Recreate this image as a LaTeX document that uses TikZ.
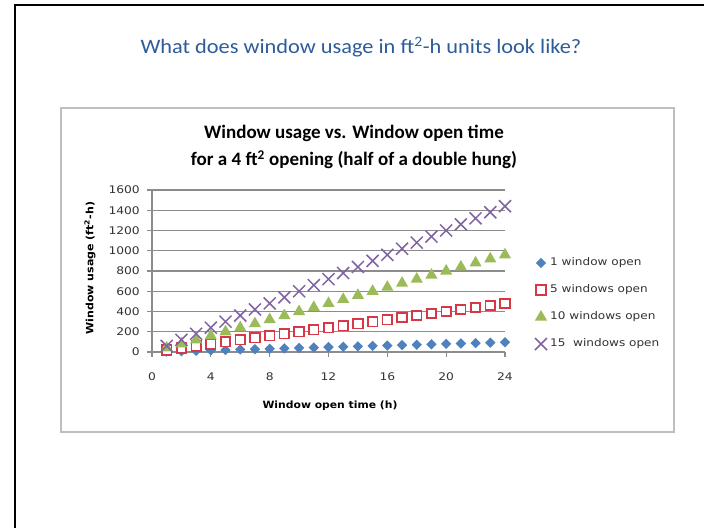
\documentclass[tikz,border=0pt]{standalone}
\usepackage{fontspec}
\usepackage{graphicx}
\setmainfont{Carlito}
\newfontfamily\dvs{DejaVu Sans}
\usetikzlibrary{shapes.geometric,shapes.misc}
\definecolor{titleblue}{RGB}{46,92,154}
\definecolor{sone}{RGB}{79,129,189}
\definecolor{stwo}{RGB}{214,56,72}
\definecolor{sthree}{RGB}{155,187,89}
\definecolor{sfour}{RGB}{128,100,162}
\definecolor{gridc}{RGB}{140,140,140}
\definecolor{boxc}{RGB}{190,190,190}
\newcommand{\hs}[2]{\scalebox{#1}[1]{#2}}
\begin{document}
\begin{tikzpicture}[x=1pt,y=-1pt,
  mkone/.style={diamond,fill=sone,inner sep=0pt,minimum width=10.5pt,minimum height=10.5pt},
  mktwo/.style={rectangle,draw=stwo,fill=white,line width=1.7pt,inner sep=0pt,minimum size=9.5pt},
  mkthree/.style={regular polygon,regular polygon sides=3,fill=sthree,inner sep=0pt,minimum size=14pt},
  mkfour/.style={cross out,draw=sfour,line width=1.5pt,inner sep=0pt,minimum size=10.5pt},
  gridline/.style={draw=gridc,line width=1.3pt},
  ticklab/.style={font=\fontsize{10.5}{12}\dvs,text=black!80,inner sep=0pt},
  legtext/.style={font=\fontsize{10.5}{12}\dvs,text=black!80,anchor=west,inner sep=0pt},
  axtitle/.style={font=\fontsize{10}{11}\dvs\bfseries,inner sep=0pt}]
\useasboundingbox (0,0) rectangle (704,528);
\fill[white] (0,0) rectangle (704,528);
% slide frame
\draw[line width=2pt] (15,528) -- (15,5) -- (704,5);
% slide title
\node[text=titleblue,font=\fontsize{20.5}{24}\selectfont,inner sep=0pt] (slidetitle) at (361,47)
  {\hs{1.09}{What does window usage in ft\textsuperscript{2}-h units look like?}};
% chart box
\draw[boxc,line width=1.2pt] (61,108) rectangle (674,432);
% chart title
\node[font=\fontsize{19}{27}\selectfont\bfseries,align=center,inner sep=0pt] (charttitle) at (354,147)
  {Window usage vs. Window open time\\for a 4 ft\textsuperscript{2} opening (half of a double hung)};
% gridlines and y ticks
\foreach \k in {1,...,8} {
  \draw[gridline] (147,{352-20.25*\k}) -- (505,{352-20.25*\k});
}
\foreach \k/\v in {0/0,1/200,2/400,3/600,4/800,5/1000,6/1200,7/1400,8/1600} {
  \node[ticklab,anchor=east] (ylab\k) at (140,{352-20.25*\k}) {\hs{1.17}{\v}};
}
% axes
\draw[gridline] (152,{352-20.25*8}) -- (152,352);
\draw[gridline] (147,352) -- (505,352);
\foreach \k/\v in {0/0,1/4,2/8,3/12,4/16,5/20,6/24} {
  \draw[gridline] ({152+58.83*\k},352) -- ({152+58.83*\k},357);
  \node[ticklab] (xlab\k) at ({152+58.83*\k},377) {\hs{1.17}{\v}};
}
% axis titles
\node[axtitle] (xtitle) at (330,406) {\hs{1.08}{Window open time (h)}};
\node[axtitle,rotate=90] (ytitle) at (90,268) {\hs{1.1}{Window usage (ft\textsuperscript{2}-h)}};
% data
\foreach \t in {1,...,24} {
  \node[mkone] (a\t) at ({152+14.708*\t},{352-0.10125*4*\t}) {};
}
\foreach \t in {1,...,24} {
  \node[mktwo] (b\t) at ({152+14.708*\t},{352-0.10125*20*\t}) {};
}
\foreach \t in {1,...,24} {
  \node[mkthree] (c\t) at ({152+14.708*\t},{352-0.10125*40*\t}) {};
}
\foreach \t in {1,...,24} {
  \node[mkfour] (d\t) at ({152+14.708*\t},{352-0.10125*60*\t}) {};
}
% legend
\node[mkone] (lgone) at (541,263) {};
\node[legtext] (lgonet) at (550,263) {\hs{1.15}{1 window open}};
\node[mktwo] (lgtwo) at (541,290) {};
\node[legtext] (lgtwot) at (550,290) {\hs{1.15}{5 windows open}};
\node[mkthree] (lgthree) at (541,317) {};
\node[legtext] (lgthreet) at (550,317) {\hs{1.15}{10 windows open}};
\node[mkfour] (lgfour) at (541,344) {};
\node[legtext] (lgfourt) at (550,344) {\hs{1.15}{15\ \ windows open}};
\end{tikzpicture}
\end{document}
